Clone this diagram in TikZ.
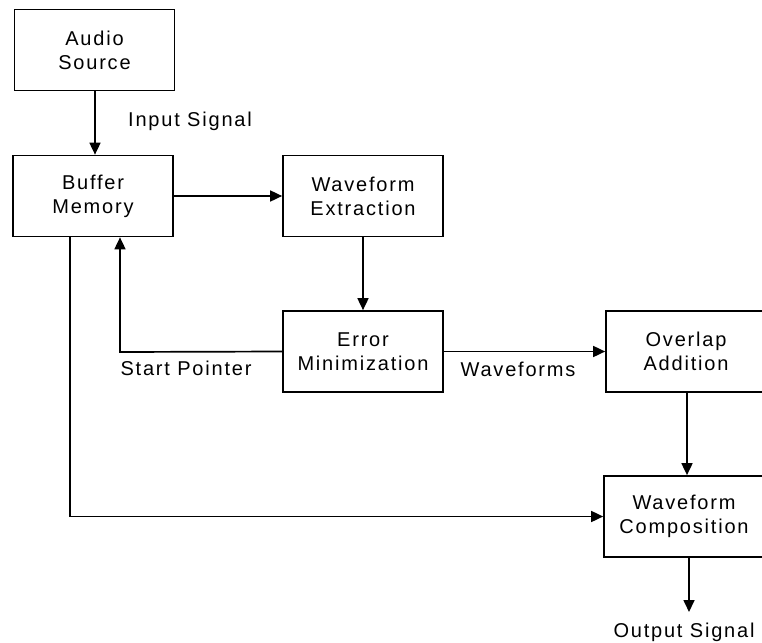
\documentclass[tikz,border=0pt]{standalone}
\usepackage{fontspec}
\setmainfont[LetterSpace=9]{Liberation Sans}
\usetikzlibrary{arrows.meta}
\begin{document}
\begin{tikzpicture}[x=1pt,y=-1pt,
  blk/.style={draw=black,line width=1.7pt,minimum width=160pt,minimum height=81pt,align=center,inner sep=0pt,font=\fontsize{20}{24}\selectfont},
  lbl/.style={font=\fontsize{20}{24}\selectfont,anchor=base,inner sep=0pt},
  conn/.style={line width=1.7pt,-{Triangle[length=12pt,width=11pt]}}]
\useasboundingbox (0,0) rectangle (762,642);
\clip (0,0) rectangle (762,642);
\fill[white] (0,0) rectangle (762,642);
\node[blk] (audio) at (94.5,50) {Audio\\Source};
\node[blk] (buffer) at (93,196) {Buffer\\Memory};
\node[blk] (extract) at (363,196) {Waveform\\Extraction};
\node[blk] (errmin) at (363,351.5) {Error\\Minimization};
\node[blk] (overlap) at (686,351.5) {Overlap\\Addition};
\node[blk] (compose) at (684,516.5) {Waveform\\Composition};
\coordinate (outend) at (689,612);
\coordinate (spcorner) at (120,352);
\coordinate (bmcorner) at (70,516.5);
\draw[conn] (audio.south -| 95,0) -- (buffer.north -| 95,0);
\draw[conn] (buffer.east) -- (extract.west);
\draw[conn] (extract.south) -- (errmin.north);
\draw[conn] (errmin.west) -- (spcorner) -- (buffer.south -| spcorner);
\draw[conn] (errmin.east) -- (overlap.west);
\draw[conn] (overlap.south -| 687,0) -- (compose.north -| 687,0);
\draw[conn] (buffer.south -| bmcorner) -- (bmcorner) -- (compose.west);
\draw[conn] (compose.south -| outend) -- (outend);
\node[lbl] (insig) at (190,126) {Input Signal};
\node[lbl] (startp) at (186,375) {Start Pointer};
\node[lbl] (wforms) at (518,376) {Waveforms};
\node[lbl] (outsig) at (684,637) {Output Signal};
\end{tikzpicture}
\end{document}
